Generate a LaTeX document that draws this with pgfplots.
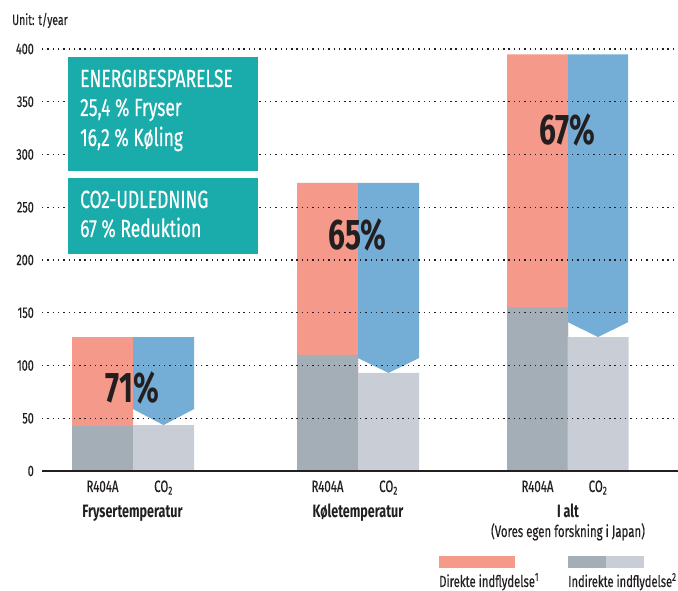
\documentclass[border=0pt]{standalone}
\usepackage{fontspec}
\setmainfont[FakeStretch=0.7, UprightFeatures={FakeBold=0.4}]{Fira Sans}
\usepackage{pgfplots}
\pgfplotsset{compat=1.18}
\definecolor{salm}{HTML}{F59A8A}
\definecolor{blu}{HTML}{74AED6}
\definecolor{dgray}{HTML}{A4AEB7}
\definecolor{lgray}{HTML}{C9CED6}
\definecolor{teal2}{HTML}{1AACAA}
\definecolor{txt}{HTML}{231F20}
\begin{document}
\begin{tikzpicture}[x=1bp,y=1bp]
\useasboundingbox (0,0) rectangle (678,591);
\begin{axis}[
  at={(42bp,120bp)}, anchor=south west,
  scale only axis, width=636bp, height=422bp,
  xmin=42, xmax=678, ymin=0, ymax=400,
  axis x line*=bottom, axis y line*=left,
  y axis line style={draw=none},
  x axis line style={draw=txt, line width=1.3bp},
  major tick length=0pt,
  ytick={0,50,...,400},
  ymajorgrids,
  major grid style={draw=txt, line width=1.2bp, dash pattern=on 1.4bp off 3.9bp},
  axis on top,
  clip=false,
  /pgf/number format/assume math mode=true,
  yticklabel style={anchor=east, inner sep=0pt, xshift=-8bp, font=\fontsize{15.5}{15.5}\selectfont, text=txt},
  xtick={102.5,163.5,327.5,388.5,537.5,598},
  xticklabels={R404A,CO\textsubscript{2},R404A,CO\textsubscript{2},R404A,CO\textsubscript{2}},
  xticklabel style={anchor=base, inner sep=0pt, yshift=-21bp, font=\fontsize{16.5}{16.5}\selectfont, text=txt},
]
% total R404A (direct + indirect)
\addplot[ybar, bar width=61, bar shift=0pt, fill=salm, draw=none] coordinates {(102.5,127) (327.5,273) (537.5,395)};
% indirect R404A
\addplot[ybar, bar width=61, bar shift=0pt, fill=dgray, draw=none] coordinates {(102.5,43) (327.5,110) (537.5,155)};
% indirect CO2
\addplot[ybar, bar width=61, bar shift=0pt, fill=lgray, draw=none] coordinates {(163.5,43.5) (388.5,93) (598,127)};
% reduction arrows
\addplot[fill=blu, draw=none] coordinates {(133,127) (194,127) (194,58.7) (163.5,43.5) (133,58.7)} --cycle;
\addplot[fill=blu, draw=none] coordinates {(358,273) (419,273) (419,107) (388.5,93) (358,107)} --cycle;
\addplot[fill=blu, draw=none] coordinates {(568,395) (628,395) (628,141) (598,127) (568,141)} --cycle;
\end{axis}
% percentages
\node[anchor=base, inner sep=0pt, text=txt, font=\fontsize{43}{43}\bfseries\selectfont] at (132.5,188) {71\%};
\node[anchor=base, inner sep=0pt, text=txt, font=\fontsize{43}{43}\bfseries\selectfont] at (357.5,341) {65\%};
\node[anchor=base, inner sep=0pt, text=txt, font=\fontsize{43}{43}\bfseries\selectfont] at (567.5,446) {67\%};
% teal boxes
\fill[teal2] (68,420) rectangle (258,534);
\fill[teal2] (68,337) rectangle (258,413);
\begin{scope}[every node/.style={anchor=base west, inner sep=0pt, text=white, font=\fontsize{25}{25}\selectfont}]
\node at (80,504) {ENERGIBESPARELSE};
\node at (80,475) {25,4 \% Fryser};
\node at (80,445) {16,2 \% Køling};
\node at (80,383) {CO2-UDLEDNING};
\node at (80,354) {67 \% Reduktion};
\end{scope}
% unit
\node[anchor=base west, inner sep=0pt, text=txt, font=\fontsize{15}{15}\selectfont] at (12,566) {Unit: t/year};
% group labels
\begin{scope}[every node/.style={anchor=base, inner sep=0pt, text=txt, font=\fontsize{18}{18}\bfseries\selectfont}]
\node at (132.5,73) {Frysertemperatur};
\node at (358,73) {Køletemperatur};
\node at (568,73) {I alt};
\end{scope}
\node[anchor=base, inner sep=0pt, text=txt, font=\fontsize{16.4}{16.4}\selectfont] at (568,54) {(Vores egen forskning i Japan)};
% legend
\fill[salm] (439,23) rectangle (515,35);
\fill[dgray] (568,23) rectangle (606,35);
\fill[lgray] (606,23) rectangle (644,35);
\node[anchor=base west, inner sep=0pt, text=txt, font=\fontsize{16.2}{16.2}\selectfont] at (439,4) {Direkte indflydelse\textsuperscript{1}};
\node[anchor=base west, inner sep=0pt, text=txt, font=\fontsize{16}{16}\selectfont] at (568,4) {Indirekte indflydelse\textsuperscript{2}};
\end{tikzpicture}
\end{document}
